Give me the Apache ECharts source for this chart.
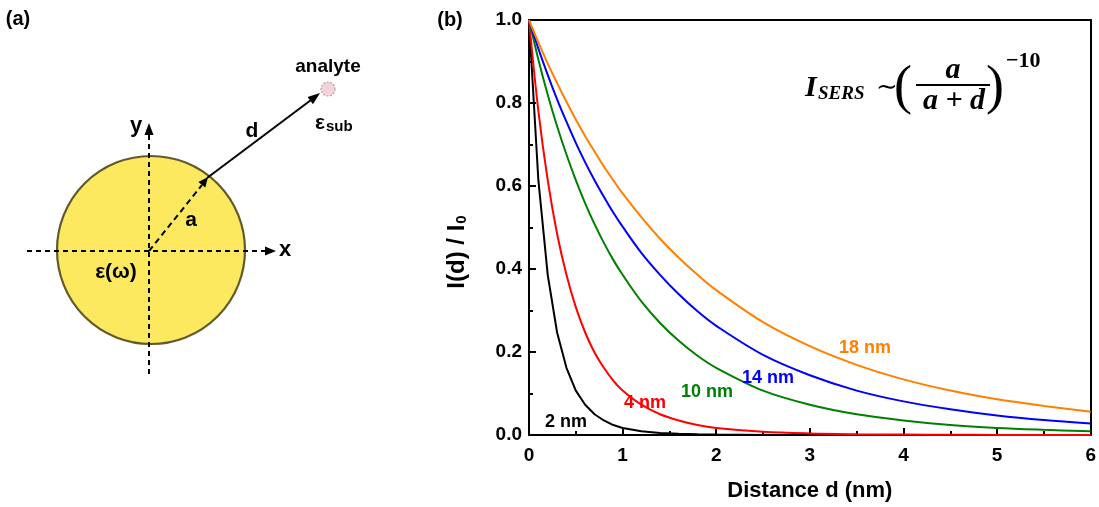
<!DOCTYPE html>
<html>
<head>
<meta charset="utf-8">
<script src="https://cdn.jsdelivr.net/npm/echarts@6/dist/echarts.min.js"></script>
<style>
html,body{margin:0;padding:0;background:#fff;}
#c{width:1099px;height:507px;}
</style>
</head>
<body>
<div id="c"></div>
<script>
// Distance d (nm)
const xs = [0, 0.1, 0.2, 0.3, 0.4, 0.5, 0.6, 0.7, 0.8, 0.9, 1.0, 1.2, 1.4, 1.6, 1.8, 2.0, 2.5, 3.0, 3.5, 4.0, 4.5, 5.0, 5.5, 6.0];
// I(d)/I0 for each radius
const nm2  = [1, 0.614, 0.386, 0.247, 0.162, 0.107, 0.073, 0.050, 0.035, 0.024, 0.017, 0.009, 0.005, 0.003, 0.0016, 0.001, 0.0003, 0.0001, 0.00004, 0.00002, 0, 0, 0, 0];
const nm4  = [1, 0.781, 0.614, 0.485, 0.386, 0.308, 0.247, 0.199, 0.162, 0.131, 0.107, 0.073, 0.050, 0.035, 0.024, 0.017, 0.0078, 0.0037, 0.0019, 0.001, 0.0005, 0.0003, 0.0002, 0.0001];
const nm10 = [1, 0.905, 0.820, 0.744, 0.676, 0.614, 0.558, 0.508, 0.463, 0.422, 0.386, 0.322, 0.270, 0.227, 0.191, 0.162, 0.107, 0.073, 0.050, 0.035, 0.024, 0.017, 0.0125, 0.009];
const nm14 = [1, 0.931, 0.868, 0.809, 0.755, 0.704, 0.657, 0.614, 0.574, 0.536, 0.502, 0.439, 0.386, 0.339, 0.298, 0.263, 0.193, 0.144, 0.107, 0.081, 0.062, 0.047, 0.036, 0.028];
const nm18 = [1, 0.946, 0.895, 0.848, 0.803, 0.760, 0.720, 0.683, 0.647, 0.614, 0.582, 0.525, 0.473, 0.427, 0.386, 0.349, 0.272, 0.214, 0.169, 0.134, 0.107, 0.086, 0.070, 0.056];
const seriesNames = ['2 nm', '4 nm', '10 nm', '14 nm', '18 nm'];
const xTickLabels = ['0', '1', '2', '3', '4', '5', '6'];
const yTickLabels = ['0.0', '0.2', '0.4', '0.6', '0.8', '1.0'];

const colors = ['#000000', '#ff0000', '#008000', '#0000ff', '#ff8000'];
const allY = [nm2, nm4, nm10, nm14, nm18];
const SANS = '"Liberation Sans", Arial, sans-serif';
const SERIF = '"Liberation Serif", "DejaVu Serif", serif';

const chart = echarts.init(document.getElementById('c'), null, {renderer: 'canvas'});

const series = allY.map((arr, k) => ({
  name: seriesNames[k],
  type: 'line',
  data: xs.map((x, i) => [x, arr[i]]),
  showSymbol: false,
  smooth: k === 0 ? false : 0.35,
  clip: true,
  lineStyle: {color: colors[k], width: 2},
  itemStyle: {color: colors[k]},
  z: 3 + k
}));

function txt(text, x, y, size, color, opts) {
  opts = opts || {};
  return {
    type: 'text', x: x, y: y, z: 100,
    style: Object.assign({
      text: text, fill: color || '#000',
      font: (opts.style || 'normal') + ' ' + (opts.weight || 'bold') + ' ' + size + 'px ' + (opts.family || SANS),
      align: opts.align || 'center', verticalAlign: opts.va || 'middle'
    }, opts.extra || {})
  };
}

const graphics = [
  // panel labels
  txt('(a)', 18, 19, 20, '#000'),
  txt('(b)', 450, 20, 20, '#000'),
  // sphere
  {type: 'circle', z: 10, shape: {cx: 151, cy: 250, r: 94}, style: {fill: '#fce95f', stroke: '#625a2c', lineWidth: 2.2}},
  // x axis dashed arrow
  {type: 'line', z: 11, shape: {x1: 27, y1: 251, x2: 266, y2: 251}, style: {stroke: '#000', lineWidth: 2, lineDash: [5, 4]}},
  {type: 'polygon', z: 11, shape: {points: [[276, 251], [265, 246.5], [265, 255.5]]}, style: {fill: '#000'}},
  // y axis dashed arrow
  {type: 'line', z: 11, shape: {x1: 149, y1: 374, x2: 149, y2: 134}, style: {stroke: '#000', lineWidth: 2, lineDash: [5, 4]}},
  {type: 'polygon', z: 11, shape: {points: [[149, 123], [144.5, 135], [153.5, 135]]}, style: {fill: '#000'}},
  // radius dashed arrow
  {type: 'line', z: 11, shape: {x1: 149, y1: 251, x2: 202, y2: 185}, style: {stroke: '#000', lineWidth: 2, lineDash: [6, 4]}},
  {type: 'polygon', z: 11, shape: {points: [[208, 177], [205.3, 187.6], [198.4, 182.1]]}, style: {fill: '#000'}},
  // distance solid arrow
  {type: 'line', z: 11, shape: {x1: 207, y1: 178, x2: 311, y2: 100}, style: {stroke: '#000', lineWidth: 2}},
  {type: 'polygon', z: 11, shape: {points: [[320, 93], [313, 104.3], [307.6, 97.1]]}, style: {fill: '#000'}},
  // analyte
  {type: 'circle', z: 11, shape: {cx: 328, cy: 89, r: 7}, style: {fill: '#f2d3d9', stroke: '#b0a8aa', lineWidth: 1.2, lineDash: [2, 1.5]}},
  txt('analyte', 328, 67, 19, '#000'),
  {type: 'text', x: 315, y: 123, z: 100, style: {
    text: '{e|ε}{s|sub}', align: 'left', verticalAlign: 'middle',
    rich: {
      e: {font: 'bold 21px ' + SANS, fill: '#000', lineHeight: 22},
      s: {font: 'bold 15px ' + SANS, fill: '#000', lineHeight: 22, padding: [8, 0, 0, 1]}
    }
  }},
  txt('d', 252, 131, 21, '#000'),
  txt('a', 191, 220, 21, '#000'),
  txt('x', 285, 250, 22, '#000'),
  txt('y', 136, 126, 22, '#000'),
  txt('ε(ω)', 116, 272, 21, '#000'),
  // curve labels
  txt('2 nm', 566, 422, 18, colors[0]),
  txt('4 nm', 645, 403, 18, colors[1]),
  txt('10 nm', 707, 392, 18, colors[2]),
  txt('14 nm', 768, 378, 18, colors[3]),
  txt('18 nm', 865, 348, 18, colors[4]),
  // formula
  txt('I', 805, 88, 30, '#000', {family: SERIF, style: 'italic', align: 'left'}),
  txt('SERS', 818, 94, 19, '#000', {family: SERIF, style: 'italic', align: 'left'}),
  txt('\u223C', 887, 88, 26, '#000', {family: '"DejaVu Serif", serif', weight: 'normal'}),
  txt('(', 903, 89, 54, '#000', {family: SERIF, weight: 'normal'}),
  txt('a', 953, 70, 30, '#000', {family: SERIF, style: 'italic'}),
  {type: 'line', z: 100, shape: {x1: 916, y1: 85, x2: 990, y2: 85}, style: {stroke: '#000', lineWidth: 1.8}},
  txt('a + d', 954, 101, 30, '#000', {family: SERIF, style: 'italic'}),
  txt(')', 995, 89, 54, '#000', {family: SERIF, weight: 'normal'}),
  txt('\u221210', 1006, 61, 22, '#000', {family: SERIF, align: 'left'}),
  // y axis title
  {type: 'text', x: 457, y: 252, rotation: Math.PI / 2, z: 100, style: {
    text: '{t|I(d) / I}{s|0}', align: 'center', verticalAlign: 'middle',
    rich: {
      t: {font: 'bold 24px ' + SANS, fill: '#000', lineHeight: 28},
      s: {font: 'bold 15px ' + SANS, fill: '#000', lineHeight: 28, padding: [10, 0, 0, 1]}
    }
  }}
];

const axisLabelStyle = {color: '#000', fontSize: 19, fontWeight: 'bold', fontFamily: SANS};

const option = {
  backgroundColor: '#fff',
  animation: false,
  grid: {left: 529, right: 7, top: 20, bottom: 69, containLabel: false},
  xAxis: [{
    type: 'value', min: 0, max: 6, interval: 1,
    name: 'Distance d (nm)', nameLocation: 'middle', nameGap: 45,
    nameTextStyle: {color: '#000', fontSize: 22, fontWeight: 'bold', fontFamily: SANS},
    axisLine: {show: true, onZero: false, lineStyle: {color: '#000', width: 2}},
    axisTick: {show: true, inside: true, length: 7, lineStyle: {color: '#000', width: 2}},
    minorTick: {show: true, splitNumber: 2, length: 4, lineStyle: {color: '#000', width: 2}},
    splitLine: {show: false},
    axisLabel: Object.assign({margin: 11, formatter: v => xTickLabels[Math.round(v)]}, axisLabelStyle)
  }, {
    type: 'value', min: 0, max: 6, position: 'top',
    axisLine: {show: true, onZero: false, lineStyle: {color: '#000', width: 2}},
    axisTick: {show: false}, axisLabel: {show: false}, splitLine: {show: false}
  }],
  yAxis: [{
    type: 'value', min: 0, max: 1, interval: 0.2,
    axisLine: {show: true, onZero: false, lineStyle: {color: '#000', width: 2}},
    axisTick: {show: true, inside: true, length: 7, lineStyle: {color: '#000', width: 2}},
    minorTick: {show: true, splitNumber: 2, length: 4, lineStyle: {color: '#000', width: 2}},
    splitLine: {show: false},
    axisLabel: Object.assign({margin: 7, formatter: v => yTickLabels[Math.round(v * 5)]}, axisLabelStyle)
  }, {
    type: 'value', min: 0, max: 1, position: 'right',
    axisLine: {show: true, onZero: false, lineStyle: {color: '#000', width: 2}},
    axisTick: {show: false}, axisLabel: {show: false}, splitLine: {show: false}
  }],
  series: series,
  graphic: graphics
};
chart.setOption(option);
</script>
</body>
</html>
